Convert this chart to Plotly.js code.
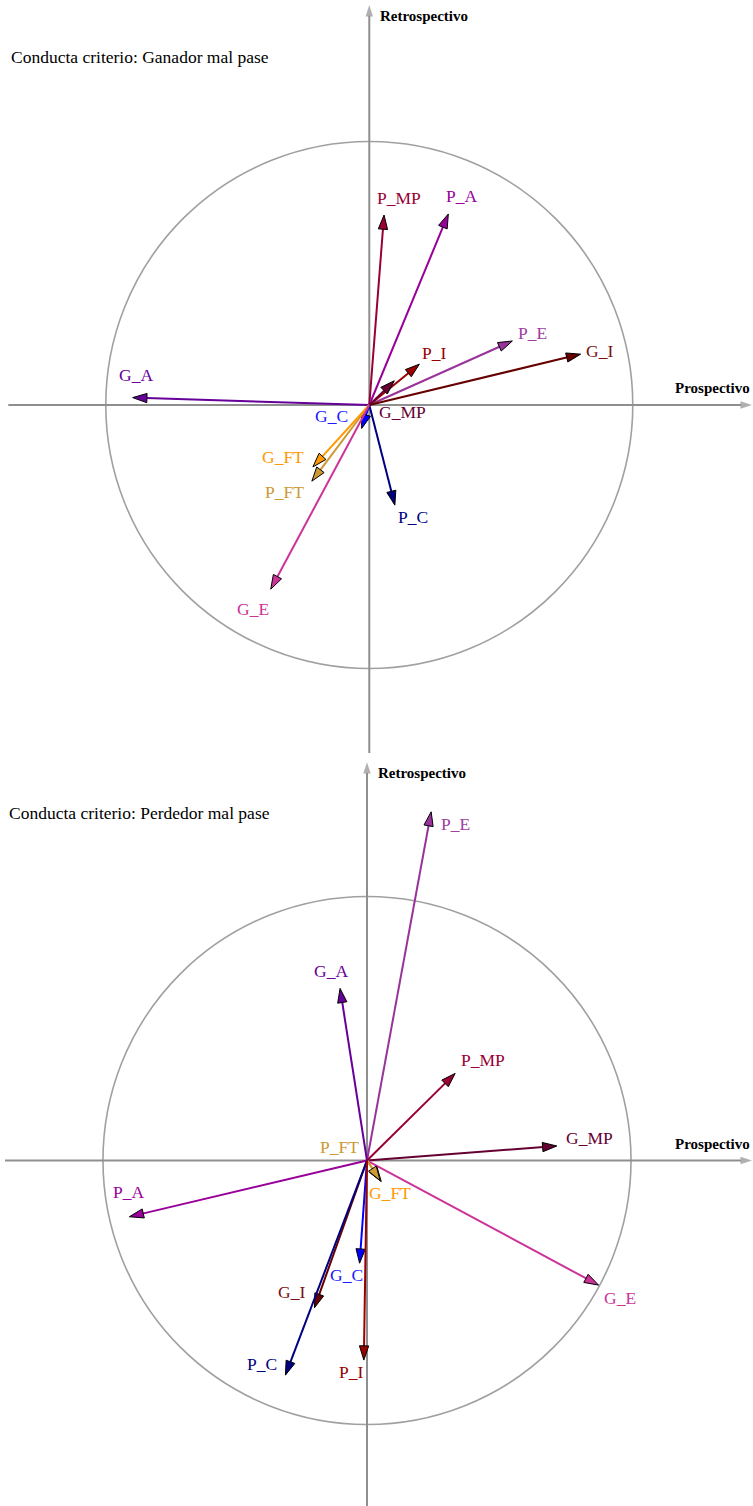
<!DOCTYPE html>
<html>
<head>
<meta charset="utf-8">
<script src="https://cdn.plot.ly/plotly-3.0.1.min.js"></script>
<style>html,body{margin:0;padding:0;background:#fff;}#chart{width:753px;height:1506px;}</style>
</head>
<body>
<div id="chart"></div>
<script>
// ---- Data: top chart (Ganador mal pase) ----
const topLabels = ['P_MP','P_A','P_E','G_I','P_I','G_MP','G_A','G_C','P_FT','G_FT','P_C','G_E'];
const topX = [0.056, 0.300, 0.543, 0.802, 0.190, 0.095, -0.898, -0.029, -0.218, -0.214, 0.097, -0.374];
const topY = [0.721, 0.725, 0.243, 0.193, 0.155, 0.092, 0.028, -0.089, -0.289, -0.235, -0.380, -0.699];

// ---- Data: bottom chart (Perdedor mal pase) ----
const botLabels = ['P_E','G_A','P_MP','G_MP','G_E','P_A','G_FT','P_FT','G_C','G_I','P_C','P_I'];
const botX = [0.243, -0.102, 0.334, 0.719, 0.877, -0.900, 0.054, 0.050, -0.028, -0.199, -0.309, -0.012];
const botY = [1.321, 0.652, 0.330, 0.055, -0.472, -0.213, -0.080, -0.076, -0.389, -0.558, -0.813, -0.756];

const titles = ['Conducta criterio: Ganador mal pase', 'Conducta criterio: Perdedor mal pase'];
const axisNames = ['Prospectivo', 'Retrospectivo'];

// ---- Styles ----
const colors = {
  'P_MP': '#990033', 'P_A': '#990099', 'P_E': '#993399', 'G_I': '#660000',
  'P_I': '#990000', 'G_MP': '#660033', 'G_A': '#660099', 'G_C': '#0000ff',
  'G_FT': '#ff9900', 'P_FT': '#cc9933', 'P_C': '#000080', 'G_E': '#cc3399'
};
const labelColors = Object.assign({}, colors, {'P_E': '#a040a0', 'G_C': '#1a1aff', 'G_I':'#7a1010'});
// label offsets in px (dx right, dy up) relative to arrow tip
const topOffsets = {
  'P_MP':[15,17],'P_A':[13,18],'P_E':[20,8],'G_I':[19,3],'P_I':[15,11],'G_MP':[8,-31],
  'G_A':[3,23],'G_C':[-30,12],'G_FT':[-30,10],'P_FT':[-27,-11],'P_C':[18,-12],'G_E':[-18,-20]
};
const botOffsets = {
  'P_E':[24,-12],'G_A':[-9,17],'P_MP':[28,13],'G_MP':[33,8],'G_E':[21,-13],'P_A':[-1,25],
  'G_FT':[9,-11],'P_FT':[-41,34],'G_C':[-13,-12],'G_I':[-23,16],'P_C':[-23,11],'P_I':[-13,-12]
};

const AXIS_GRAY = '#8f8f8f';
const FONT = 'Liberation Serif, Times New Roman, serif';

const ranges = [
  {x:[-1.4015, 1.4562], y:[-1.3207, 1.537], hx:[-1.37, 1.452], vy:[-1.3207, 1.518]},
  {x:[-1.390, 1.462], y:[-1.3087, 1.5436], hx:[-1.371, 1.458], vy:[-1.3087, 1.509]}
];

const traces = [];
const annotations = [];
const shapes = [];

function addChart(idx, labels, xs, ys, offsets) {
  const xa = idx === 0 ? 'x' : 'x2';
  const ya = idx === 0 ? 'y' : 'y2';
  const r = ranges[idx];
  // axes with arrowheads
  traces.push({
    x: r.hx, y: [0, 0], xaxis: xa, yaxis: ya, mode: 'lines+markers', hoverinfo: 'skip',
    line: {color: AXIS_GRAY, width: 2},
    marker: {symbol: 'arrow', angleref: 'previous', size: [0, 12], color: AXIS_GRAY, line: {width: 0}},
    showlegend: false
  });
  traces.push({
    x: [0, 0], y: r.vy, xaxis: xa, yaxis: ya, mode: 'lines+markers', hoverinfo: 'skip',
    line: {color: AXIS_GRAY, width: 2},
    marker: {symbol: 'arrow', angleref: 'previous', size: [0, 12], color: AXIS_GRAY, line: {width: 0}},
    showlegend: false
  });
  shapes.push({type: 'circle', xref: xa, yref: ya, x0: -1, x1: 1, y0: -1, y1: 1,
    line: {color: '#a0a0a0', width: 1.6}, layer: 'below'});
  labels.forEach((lab, i) => {
    traces.push({
      x: [0, xs[i]], y: [0, ys[i]], xaxis: xa, yaxis: ya, mode: 'lines+markers',
      name: lab, showlegend: false,
      line: {color: colors[lab], width: 2},
      marker: {symbol: 'arrow', angleref: 'previous', size: [0, 15], color: colors[lab],
               opacity: 1, line: {color: '#000', width: 1}}
    });
    const off = offsets[lab];
    annotations.push({
      xref: xa, yref: ya, x: xs[i], y: ys[i], xshift: off[0], yshift: off[1],
      text: lab, showarrow: false, xanchor: 'center', yanchor: 'middle',
      font: {family: FONT, size: 17.5, color: labelColors[lab]}
    });
  });
  const yTop = idx === 0 ? 1 : 0.5;
  annotations.push({
    xref: 'paper', yref: 'paper', x: idx === 0 ? 9/753 : 7/753,
    y: yTop - (idx === 0 ? 57 : 60) / 1506, text: titles[idx], showarrow: false,
    xanchor: 'left', yanchor: 'middle', font: {family: FONT, size: 17.5, color: '#000'}
  });
  annotations.push({
    xref: xa, yref: ya, x: 0, y: r.vy[1], xshift: 9, yshift: -11, text: '<b>' + axisNames[1] + '</b>',
    showarrow: false, xanchor: 'left', yanchor: 'middle',
    font: {family: FONT, size: 15, color: '#000'}
  });
  annotations.push({
    xref: xa, yref: ya, x: r.x[1], y: 0, xshift: -1, yshift: 17, text: '<b>' + axisNames[0] + '</b>',
    showarrow: false, xanchor: 'right', yanchor: 'middle',
    font: {family: FONT, size: 15, color: '#000'}
  });
}

addChart(0, topLabels, topX, topY, topOffsets);
addChart(1, botLabels, botX, botY, botOffsets);

const ax = (rng, extra) => Object.assign({range: rng, visible: false, showgrid: false, zeroline: false, fixedrange: true}, extra);
const layout = {
  width: 753, height: 1506,
  margin: {l: 0, r: 0, t: 0, b: 0, pad: 0},
  paper_bgcolor: '#fff', plot_bgcolor: '#fff',
  showlegend: false,
  xaxis: ax(ranges[0].x, {domain: [0, 1], anchor: 'y'}),
  yaxis: ax(ranges[0].y, {domain: [0.5, 1], anchor: 'x'}),
  xaxis2: ax(ranges[1].x, {domain: [0, 1], anchor: 'y2'}),
  yaxis2: ax(ranges[1].y, {domain: [0, 0.5], anchor: 'x2'}),
  shapes: shapes,
  annotations: annotations
};
Plotly.newPlot('chart', traces, layout, {staticPlot: true, displayModeBar: false});
</script>
</body>
</html>
